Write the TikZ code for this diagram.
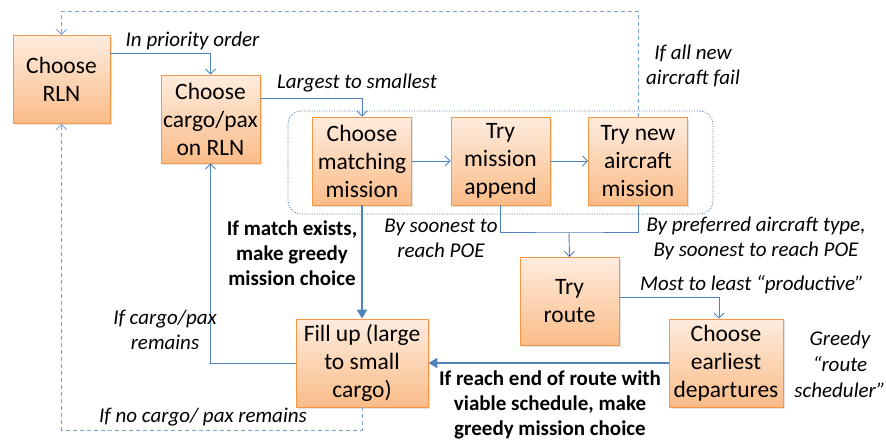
\documentclass[tikz,border=0pt]{standalone}
\usepackage{fontspec}
\setmainfont{Carlito}
\usetikzlibrary{arrows.meta,shadows}
\definecolor{lnblue}{RGB}{79,129,189}
\definecolor{dshblue}{RGB}{120,160,212}
\definecolor{dotblue}{RGB}{75,112,170}
\definecolor{bxtop}{RGB}{254,236,222}
\definecolor{bxbot}{RGB}{250,188,136}
\definecolor{bxedge}{RGB}{247,150,70}
\begin{document}
\begin{tikzpicture}[x=1pt,y=-1pt,
  box/.style={draw=bxedge, line width=0.9pt, top color=bxtop, bottom color=bxbot,
    minimum width=99pt, minimum height=88pt, align=center, inner sep=0pt,
    font=\fontsize{23.5}{28}\selectfont,
    drop shadow={opacity=0.22, shadow xshift=1.5pt, shadow yshift=-1.5pt}},
  lbl/.style={font=\fontsize{21}{25}\selectfont\itshape, align=center, inner sep=0pt},
  blbl/.style={font=\fontsize{21}{25}\selectfont\bfseries, align=center, inner sep=0pt},
  thinline/.style={draw=lnblue, line width=0.9pt},
  tarr/.style={thinline, -{Straight Barb[length=5pt,width=10pt]}},
  thk/.style={draw=lnblue, line width=2.6pt, -{Triangle[length=9pt,width=10pt]}},
  dsh/.style={draw=dshblue, line width=0.9pt, dash pattern=on 4pt off 3pt},
  dsharr/.style={dsh, -{Straight Barb[length=5pt,width=10pt]}}]
\useasboundingbox (0,0) rectangle (886,440);

% dotted grouping
\node[draw=dotblue, line width=0.8pt, dash pattern=on 1pt off 1.5pt, rounded corners=13pt,
  minimum width=425pt, minimum height=103pt, inner sep=0pt] (grp) at (500.5,162.5) {};

% boxes
\node[box, minimum width=97pt] (rln) at (61.5,79.5) {Choose\\RLN};
\node[box] (cargo) at (210.5,119) {Choose\\cargo/pax\\on RLN};
\node[box] (match) at (362,161) {Choose\\matching\\mission};
\node[box] (append) at (500.5,161) {Try\\mission\\append};
\node[box] (newac) at (638,161) {Try new\\aircraft\\mission};
\node[box] (route) at (569.5,301.5) {Try\\route};
\node[box, minimum width=114pt] (earliest) at (726,363) {Choose\\earliest\\departures};
\node[box, minimum width=132pt] (fill) at (362,363) {Fill up (large\\to small\\cargo)};

% coordinates
\coordinate (j) at (569,232);
\coordinate (tl) at (61.5,11);
\coordinate (bl) at (61.5,430);

% connectors
\draw[tarr] ([yshift=26pt]rln.east) -| (cargo.north);
\draw[tarr] ([yshift=21pt]cargo.east) -| (match.north);
\draw[tarr] (match) -- (append);
\draw[tarr] (append) -- (newac);
\draw[thinline] (append.south) |- (j) -| (newac.south);
\draw[tarr] (j) -- (route.north);
\draw[tarr] ([yshift=4pt]route.east) -| ([xshift=-7pt]earliest.north);
\draw[thk] (earliest.west) -- (fill.east);
\draw[thk] (match.south) -- (fill.north);
\draw[tarr] (fill.west) -| (cargo.south);
\draw[dsharr] (newac.north) |- (tl) -- (rln.north);
\draw[dsharr] (fill.south) |- (bl) -- (rln.south);

% labels
\node[lbl] (l1) at (192.5,41) {In priority order};
\node[lbl] (l2) at (357,83) {Largest to smallest};
\node[lbl] (l3) at (693,66) {If all new\\aircraft fail};
\node[lbl] (l4) at (441,238) {By soonest to\\reach POE};
\node[lbl] (l5) at (756,238) {By preferred aircraft type,\\By soonest to reach POE};
\node[lbl] (l6) at (752,285) {Most to least “productive”};
\node[lbl, font=\fontsize{21}{26}\selectfont\itshape] (l7) at (840,364) {Greedy\\“route\\scheduler”};
\node[blbl] (l8) at (292,253.5) {If match exists,\\make greedy\\mission choice};
\node[lbl] (l9) at (165,329.5) {If cargo/pax\\remains};
\node[lbl] (l10) at (203,417) {If no cargo/ pax remains};
\node[blbl] (l11) at (550,404.5) {If reach end of route with\\viable schedule, make\\greedy mission choice};
\end{tikzpicture}
\end{document}
